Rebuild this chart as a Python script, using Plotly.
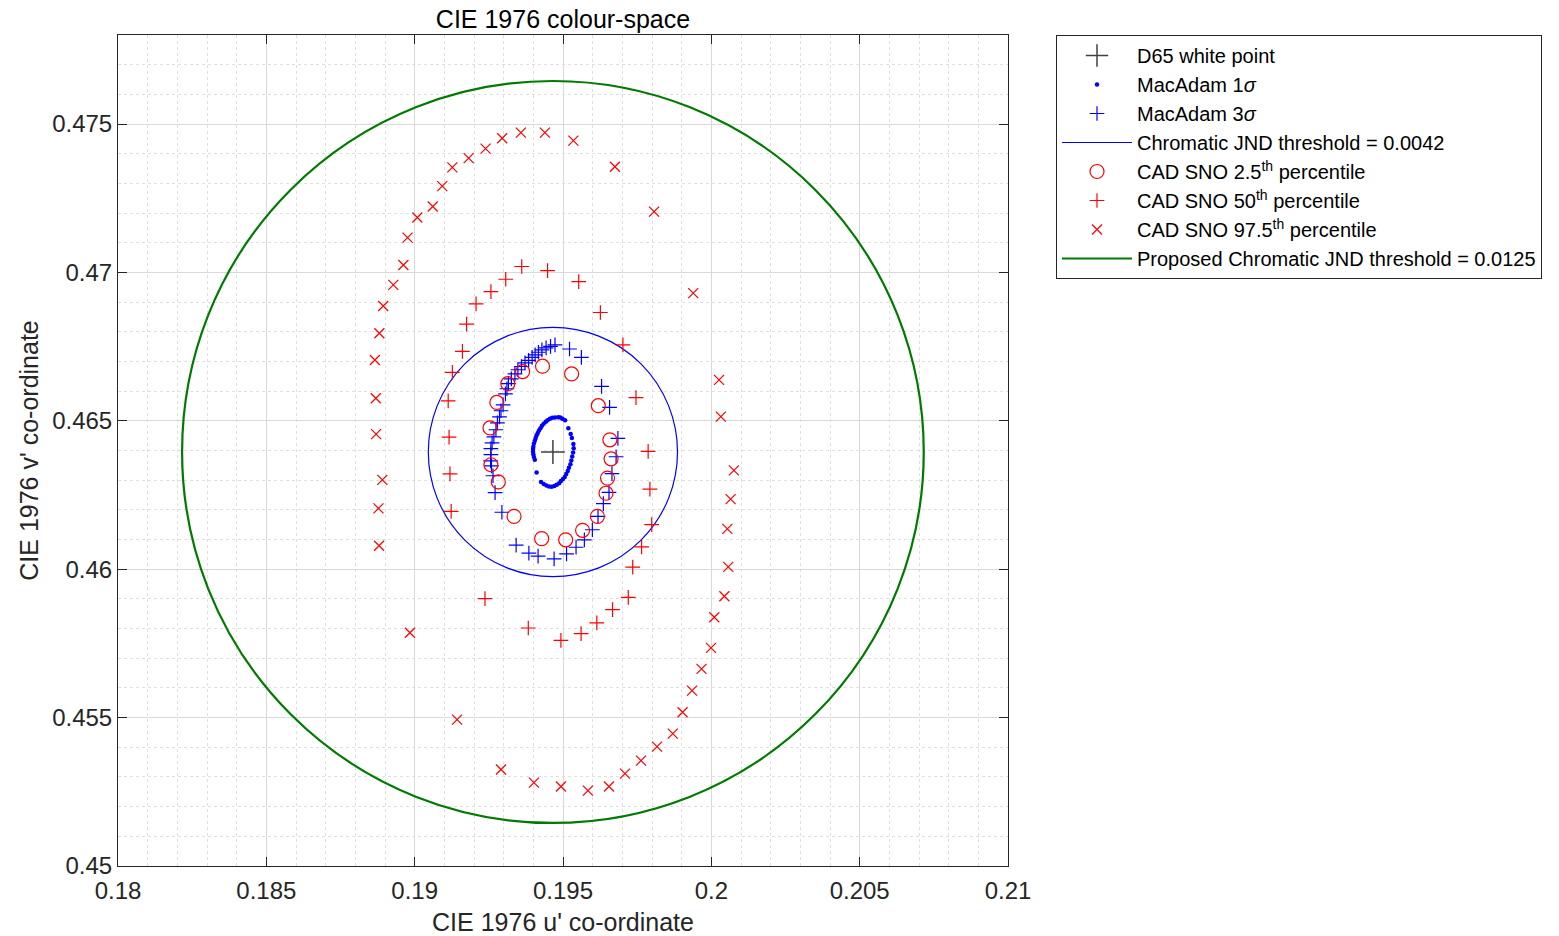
import plotly.graph_objects as go

# ---------------- data ----------------
d65_u = [0.19466]
d65_v = [0.46395]

macadam1_u = [0.19484, 0.19473, 0.19464, 0.19456, 0.19448, 0.19442, 0.19435, 0.19429, 0.19424, 0.19419,
              0.19415, 0.19411, 0.19408, 0.19405, 0.19402, 0.19400, 0.19399, 0.19399, 0.19400, 0.19402,
              0.19405, 0.19411, 0.19426, 0.19435, 0.19444, 0.19453, 0.19462, 0.19471, 0.19479, 0.19487,
              0.19493, 0.19500, 0.19506, 0.19511, 0.19516, 0.19520, 0.19525, 0.19528, 0.19531, 0.19534,
              0.19536, 0.19535, 0.19530, 0.19526, 0.19518, 0.19507, 0.19498, 0.19491]
macadam1_v = [0.46512, 0.46511, 0.46510, 0.46507, 0.46502, 0.46497, 0.46490, 0.46483, 0.46475, 0.46467,
              0.46459, 0.46451, 0.46442, 0.46433, 0.46424, 0.46413, 0.46405, 0.46396, 0.46387, 0.46378,
              0.46369, 0.46326, 0.46294, 0.46287, 0.46282, 0.46279, 0.46278, 0.46280, 0.46285, 0.46290,
              0.46297, 0.46304, 0.46311, 0.46321, 0.46331, 0.46342, 0.46354, 0.46366, 0.46380, 0.46393,
              0.46408, 0.46422, 0.46442, 0.46456, 0.46475, 0.46502, 0.46507, 0.46511]

macadam3_u = [0.19473, 0.19458, 0.19443, 0.19429, 0.19417, 0.19406, 0.19396, 0.19384, 0.19372, 0.19360,
              0.19348, 0.19338, 0.19326, 0.19316, 0.19311, 0.19306, 0.19298, 0.19291, 0.19286, 0.19279,
              0.19274, 0.19267, 0.19261, 0.19257, 0.19257, 0.19256, 0.19259, 0.19264, 0.19271, 0.19294,
              0.19342, 0.19385, 0.19416, 0.19470, 0.19512, 0.19544, 0.19572, 0.19599, 0.19618, 0.19636,
              0.19655, 0.19665, 0.19679, 0.19685, 0.19657, 0.19630, 0.19562, 0.19522]
macadam3_v = [0.46756, 0.46751, 0.46746, 0.46739, 0.46731, 0.46722, 0.46714, 0.46704, 0.46695, 0.46683,
              0.46672, 0.46658, 0.46641, 0.46625, 0.46608, 0.46591, 0.46554, 0.46534, 0.46513, 0.46493,
              0.46470, 0.46446, 0.46426, 0.46406, 0.46386, 0.46365, 0.46348, 0.46315, 0.46258, 0.46192,
              0.46081, 0.46054, 0.46044, 0.46035, 0.46052, 0.46074, 0.46099, 0.46133, 0.46178, 0.46221,
              0.46259, 0.46322, 0.46379, 0.46441, 0.46545, 0.46616, 0.46714, 0.46742]

sno025_u = [0.19431, 0.19529, 0.19619, 0.19658, 0.19662, 0.19650, 0.19645, 0.19616, 0.19566,
            0.19509, 0.19428, 0.19335, 0.19282, 0.19257, 0.19254, 0.19277, 0.19314, 0.19364]
sno025_v = [0.46684, 0.46658, 0.46551, 0.46436, 0.46372, 0.46307, 0.46256, 0.46178, 0.46131,
            0.46099, 0.46103, 0.46178, 0.46294, 0.46352, 0.46476, 0.46562, 0.46625, 0.46666]

sno50_u = [0.19361, 0.19448, 0.19553, 0.19626, 0.19702, 0.19746, 0.19787, 0.19793, 0.19799, 0.19765,
           0.19735, 0.19720, 0.19667, 0.19614, 0.19561, 0.19493, 0.19383, 0.19237, 0.19123, 0.19119,
           0.19116, 0.19113, 0.19127, 0.19161, 0.19175, 0.19207, 0.19257, 0.19307]
sno50_v = [0.47020, 0.47006, 0.46969, 0.46865, 0.46756, 0.46578, 0.46397, 0.46270, 0.46150, 0.46075,
           0.46007, 0.45905, 0.45864, 0.45819, 0.45783, 0.45760, 0.45802, 0.45901, 0.46195, 0.46321,
           0.46445, 0.46567, 0.46663, 0.46734, 0.46826, 0.46894, 0.46935, 0.46977]

sno975_u = [0.19143, 0.19291, 0.19402, 0.19493, 0.19584, 0.19655, 0.19709, 0.19763, 0.19817, 0.19870,
            0.19903, 0.19935, 0.19967, 0.19999, 0.20010, 0.20044, 0.20057, 0.20054, 0.20065, 0.20076,
            0.20032, 0.20026, 0.19939, 0.19807, 0.19675, 0.19535, 0.19439, 0.19358, 0.19295, 0.19239,
            0.19182, 0.19127, 0.19093, 0.19061, 0.19009, 0.18976, 0.18962, 0.18928, 0.18894, 0.18881,
            0.18866, 0.18869, 0.18870, 0.18891, 0.18878, 0.18880, 0.18984]
sno975_v = [0.45493, 0.45325, 0.45281, 0.45268, 0.45254, 0.45268, 0.45311, 0.45355, 0.45402, 0.45446,
            0.45518, 0.45591, 0.45664, 0.45735, 0.45838, 0.45909, 0.46008, 0.46136, 0.46236, 0.46333,
            0.46514, 0.46638, 0.46930, 0.47205, 0.47356, 0.47444, 0.47471, 0.47471, 0.47452, 0.47417,
            0.47385, 0.47354, 0.47291, 0.47222, 0.47185, 0.47117, 0.47025, 0.46958, 0.46887, 0.46795,
            0.46705, 0.46576, 0.46455, 0.46301, 0.46205, 0.46079, 0.45786]

jnd_threshold = 0.0042
proposed_threshold = 0.0125

x_ticks = [0.18, 0.185, 0.19, 0.195, 0.2, 0.205, 0.21]
x_ticktext = ["0.18", "0.185", "0.19", "0.195", "0.2", "0.205", "0.21"]
y_ticks = [0.45, 0.455, 0.46, 0.465, 0.47, 0.475]
y_ticktext = ["0.45", "0.455", "0.46", "0.465", "0.47", "0.475"]

names = ["D65 white point", "MacAdam 1<i>σ</i>", "MacAdam 3<i>σ</i>",
         "Chromatic JND threshold = 0.0042",
         "CAD SNO 2.5<sup>th</sup> percentile", "CAD SNO 50<sup>th</sup> percentile",
         "CAD SNO 97.5<sup>th</sup> percentile",
         "Proposed Chromatic JND threshold = 0.0125"]

# ---------------- figure ----------------
FONT = "Arial, 'Liberation Sans', Helvetica, sans-serif"
BLUE = "#0000ff"
RED = "#ff0000"
GREEN = "#007a00"
DARK = "#262626"

fig = go.Figure()

fig.add_trace(go.Scatter(x=d65_u, y=d65_v, mode="markers", name=names[0],
                         marker=dict(symbol="cross-thin", size=17, color="#404040",
                                     line=dict(color="#404040", width=1.5))))
fig.add_trace(go.Scatter(x=macadam1_u, y=macadam1_v, mode="markers", name=names[1],
                         marker=dict(symbol="circle", size=4.5, color=BLUE, line=dict(width=0))))
fig.add_trace(go.Scatter(x=macadam3_u, y=macadam3_v, mode="markers", name=names[2],
                         marker=dict(symbol="cross-thin", size=10.5, color=BLUE,
                                     line=dict(color=BLUE, width=1.2))))
fig.add_trace(go.Scatter(x=[None], y=[None], mode="lines", name=names[3],
                         line=dict(color=BLUE, width=1.2)))
fig.add_trace(go.Scatter(x=sno025_u, y=sno025_v, mode="markers", name=names[4],
                         marker=dict(symbol="circle-open", size=14, color=RED,
                                     line=dict(color=RED, width=1.2))))
fig.add_trace(go.Scatter(x=sno50_u, y=sno50_v, mode="markers", name=names[5],
                         marker=dict(symbol="cross-thin", size=10.5, color=RED,
                                     line=dict(color=RED, width=1.2))))
fig.add_trace(go.Scatter(x=sno975_u, y=sno975_v, mode="markers", name=names[6],
                         marker=dict(symbol="x-thin", size=10, color=RED,
                                     line=dict(color=RED, width=1.2))))
fig.add_trace(go.Scatter(x=[None], y=[None], mode="lines", name=names[7],
                         line=dict(color=GREEN, width=2.2)))

cu, cv = d65_u[0], d65_v[0]
for r, col, w in [(jnd_threshold, BLUE, 1.2), (proposed_threshold, GREEN, 2.2)]:
    fig.add_shape(type="circle", xref="x", yref="y",
                  x0=cu - r, x1=cu + r, y0=cv - r, y1=cv + r,
                  line=dict(color=col, width=w), layer="between")

axis_common = dict(
    showline=True, linecolor=DARK, linewidth=1, mirror="ticks",
    ticks="inside", ticklen=9, tickcolor=DARK, tickwidth=1,
    showgrid=True, gridcolor="#d9d9d9", gridwidth=1,
    zeroline=False,
    tickfont=dict(family=FONT, size=24, color=DARK),
)

fig.update_xaxes(range=[0.18, 0.21], tickvals=x_ticks, ticktext=x_ticktext,
                 ticklabelstandoff=3,
                 title=dict(text="CIE 1976 u' co-ordinate", font=dict(family=FONT, size=25, color=DARK),
                            standoff=12),
                 minor=dict(dtick=0.001, showgrid=True, gridcolor="#e0e0e0", griddash="dot", ticks=""),
                 **axis_common)
fig.update_yaxes(range=[0.45, 0.478], tickvals=y_ticks, ticktext=y_ticktext,
                 title=dict(text="CIE 1976 v' co-ordinate", font=dict(family=FONT, size=25, color=DARK),
                            standoff=6),
                 minor=dict(dtick=0.001, showgrid=True, gridcolor="#e0e0e0", griddash="dot", ticks=""),
                 **axis_common)

# the page adds an 8px body margin, so the figure is sized to fit inside it
fig.update_layout(
    width=1551, height=928,
    margin=dict(l=110, r=551, t=27, b=70, autoexpand=False),
    paper_bgcolor="white", plot_bgcolor="white",
    font=dict(family=FONT, color=DARK),
    title=dict(text="CIE 1976 colour-space", x=0.5, xref="paper", xanchor="center",
               y=1 - 11 / 928, yref="container", yanchor="middle",
               font=dict(family=FONT, size=25, color="black")),
    legend=dict(x=(1048 - 110) / 890, y=1, xref="paper", yref="paper",
                xanchor="left", yanchor="top",
                bordercolor=DARK, borderwidth=1, bgcolor="white",
                font=dict(family=FONT, size=20, color="black"),
                itemwidth=70, tracegroupgap=0, itemsizing="trace"),
    showlegend=True,
)

fig.write_html("out.html")
